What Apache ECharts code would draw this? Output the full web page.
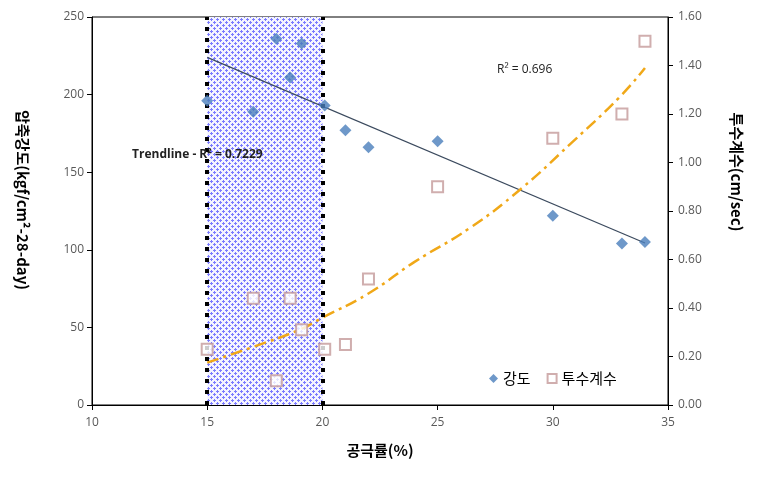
<!DOCTYPE html>
<html><head><meta charset="utf-8">
<script src="https://cdn.jsdelivr.net/npm/echarts@6/dist/echarts.min.js"></script>
<style>html,body{margin:0;padding:0;background:#fff}#c{width:757px;height:479px}</style>
</head><body><div id="c"></div>
<script>
// Data
const strengthX = [15, 17, 18, 18.6, 19.1, 20.1, 21, 22, 25, 30, 33, 34];
const strengthY = [196, 189, 236, 211, 233, 193, 177, 166, 170, 122, 104, 105];
const permX = [15, 17, 18, 18.6, 19.1, 20.1, 21, 22, 25, 30, 33, 34];
const permY = [0.23, 0.44, 0.10, 0.44, 0.31, 0.23, 0.25, 0.52, 0.90, 1.10, 1.20, 1.50];
// Trendlines
const linTrendX = [15, 34];
const linTrendY = [224, 104.4];
const polyTrendX = [15, 17, 19, 20, 22, 24, 26.4, 28.6, 30.8, 32.9, 34];
const polyTrendY = [0.175, 0.24, 0.31, 0.36, 0.46, 0.59, 0.73, 0.89, 1.08, 1.27, 1.39];
const zoneRange = [15, 20];
const xTicks = [10, 35, 5];
const leftTicks = [0, 250, 50];
const rightTicks = [0, 1.6, 0.2];

const pairs = (xs, ys) => xs.map((x, i) => [x, ys[i]]);

// pattern for shaded zone
const pc = document.createElement('canvas');
pc.width = 6; pc.height = 6;
const g = pc.getContext('2d');
g.fillStyle = '#f4f4ff'; g.fillRect(0, 0, 6, 6);
g.fillStyle = '#7a7aff';
g.fillRect(1, 0, 1, 3); g.fillRect(0, 1, 3, 1);
g.fillRect(4, 3, 1, 3); g.fillRect(3, 4, 3, 1);

const chart = echarts.init(document.getElementById('c'));
const tickFont = {color: '#595959', fontSize: 12, fontFamily: 'Open Sans, Noto Sans, sans-serif'};
chart.setOption({
  animation: false,
  grid: {left: 92, right: 89, top: 17, bottom: 74, show: true, borderColor: '#000', borderWidth: 1},
  legend: {
    left: 484, top: 366, itemGap: 16, itemWidth: 9, itemHeight: 9,
    textStyle: {fontSize: 15, color: '#000', fontFamily: 'Noto Sans CJK KR'},
    data: [{name: '강도', icon: 'diamond'}, {name: '투수계수', icon: 'emptyRect'}]
  },
  xAxis: {
    type: 'value', min: xTicks[0], max: xTicks[1], interval: xTicks[2],
    name: '공극률(%)', nameLocation: 'middle', nameGap: 38,
    nameTextStyle: {fontSize: 15, fontWeight: 'bold', color: '#000', fontFamily: 'Noto Sans CJK KR'},
    axisLine: {lineStyle: {color: '#000'}}, axisTick: {lineStyle: {color: '#000'}, length: 5},
    axisLabel: Object.assign({margin: 12}, tickFont), splitLine: {show: false}
  },
  yAxis: [{
    type: 'value', min: leftTicks[0], max: leftTicks[1], interval: leftTicks[2],
    axisLine: {show: true, lineStyle: {color: '#000'}}, axisTick: {show: true, lineStyle: {color: '#000'}},
    axisLabel: tickFont, splitLine: {show: false}
  }, {
    type: 'value', min: rightTicks[0], max: rightTicks[1], interval: rightTicks[2],
    position: 'right',
    axisLine: {show: true, lineStyle: {color: '#000'}}, axisTick: {show: true, lineStyle: {color: '#000'}},
    axisLabel: Object.assign({formatter: v => v.toFixed(2), margin: 10}, tickFont), splitLine: {show: false}
  }],
  graphic: [
    {type: 'text', x: 23, y: 200, rotation: -Math.PI / 2,
     style: {text: '압축강도(kgf/cm²-28-day)', font: 'bold 15px "Noto Sans CJK KR"', fill: '#000', align: 'center', verticalAlign: 'middle'}},
    {type: 'text', x: 737, y: 172, rotation: -Math.PI / 2,
     style: {text: '투수계수(cm/sec)', font: 'bold 15px "Noto Sans CJK KR"', fill: '#000', align: 'center', verticalAlign: 'middle'}},
    {type: 'text', x: 132, y: 155, z: 100,
     style: {text: 'Trendline - R² = 0.7229', font: 'bold 12px "Open Sans", sans-serif', fill: '#222', verticalAlign: 'middle'}},
    {type: 'text', x: 497, y: 70, z: 100,
     style: {text: 'R² = 0.696', font: '12px "Open Sans", sans-serif', fill: '#222', verticalAlign: 'middle'}}
  ],
  series: [
    {
      name: 'zone', type: 'line', data: [], yAxisIndex: 0, silent: true,
      markArea: {silent: true, itemStyle: {color: {image: pc, repeat: 'repeat'}}, data: [[{xAxis: zoneRange[0]}, {xAxis: zoneRange[1]}]]},
      markLine: {silent: true, symbol: 'none', label: {show: false},
        lineStyle: {color: '#000', width: 4, type: [4, 7]},
        data: [{xAxis: zoneRange[0]}, {xAxis: zoneRange[1]}]}
    },
    {name: '강도 trend', type: 'line', data: pairs(linTrendX, linTrendY), yAxisIndex: 0, symbol: 'none',
     lineStyle: {color: '#3b4a5e', width: 1.2}, z: 3},
    {name: '투수계수 trend', type: 'line', data: pairs(polyTrendX, polyTrendY), yAxisIndex: 1, symbol: 'none', smooth: true,
     lineStyle: {color: '#f0a818', width: 2.5, type: [12, 5, 3, 5]}, z: 3},
    {name: '강도', type: 'scatter', data: pairs(strengthX, strengthY), yAxisIndex: 0, symbol: 'diamond', symbolSize: 12,
     itemStyle: {color: '#4a7ebb'}, z: 5},
    {name: '투수계수', type: 'scatter', data: pairs(permX, permY), yAxisIndex: 1, symbol: 'emptyRect', symbolSize: 11,
     itemStyle: {color: '#c49a9a', borderWidth: 2}, z: 5}
  ]
});
</script></body></html>
